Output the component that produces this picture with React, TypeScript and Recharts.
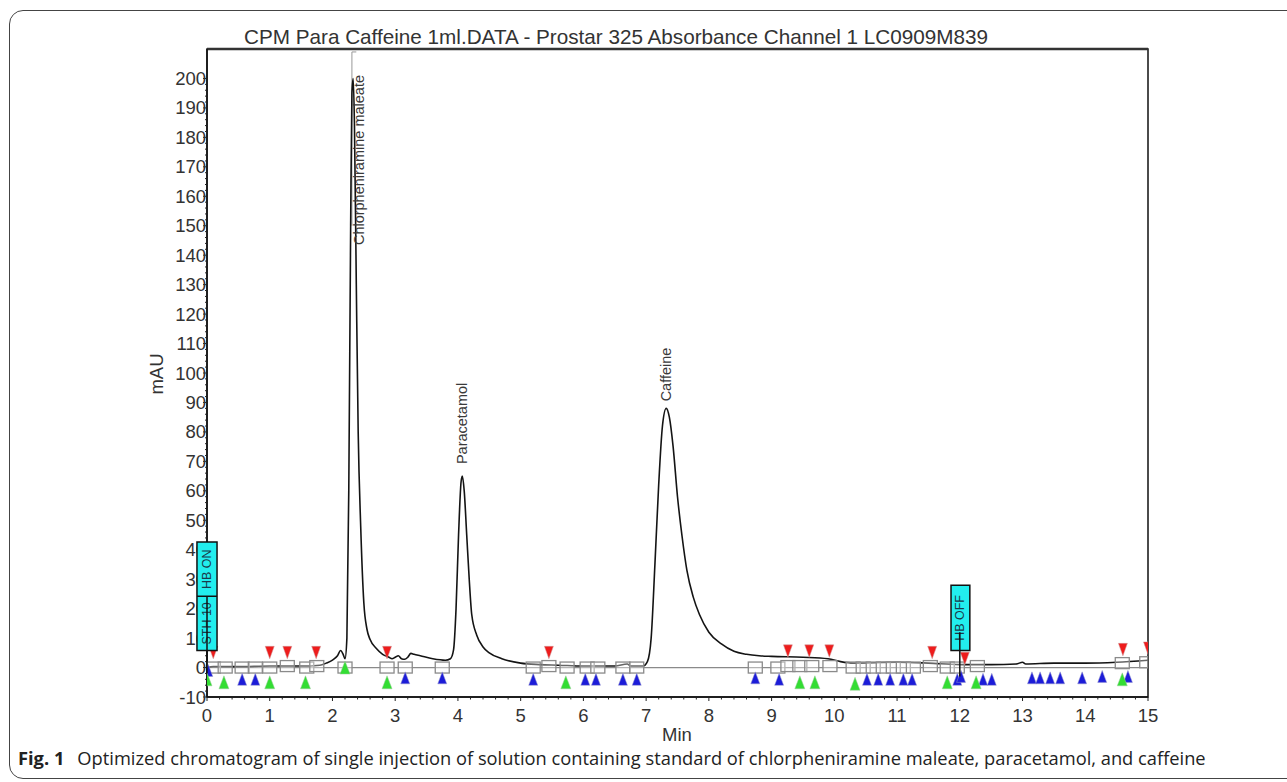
import React from "react";
import { ComposedChart, Line, Scatter, XAxis, YAxis, ReferenceArea, ReferenceLine } from "recharts";

// detector signal (min, mAU)
const times = [
  0.0, 0.1, 0.5, 1.0, 1.5, 1.8, 1.9, 2.0, 2.08, 2.13, 2.17, 2.2, 2.23, 2.26, 2.29, 2.31, 2.33, 2.35, 2.38, 2.41,
  2.45, 2.5, 2.55, 2.6, 2.7, 2.8, 2.9, 2.95, 3.0, 3.05, 3.1, 3.15, 3.2, 3.25, 3.3, 3.4, 3.6, 3.8, 3.88, 3.93,
  3.97, 4.01, 4.05, 4.07, 4.1, 4.14, 4.18, 4.22, 4.3, 4.4, 4.5, 4.7, 5.0, 5.3, 5.6, 6.0, 6.5, 6.7, 6.75, 6.95,
  7.02, 7.08, 7.14, 7.2, 7.26, 7.32, 7.37, 7.43, 7.5, 7.57, 7.65, 7.75, 7.85, 8.0, 8.2, 8.4, 8.6, 8.8, 9.0, 9.5,
  9.9, 10.1, 10.3, 11.0, 11.5, 12.0, 12.5, 12.9, 13.0, 13.05, 13.5, 14.0, 14.5, 15.0,
];
const mau = [
  0, 0.3, 0.3, 0.5, 0.5, 0.8, 1.5, 2.5, 4, 5.8, 4.5, 3, 10, 60, 150, 195, 200, 185, 130, 80,
  48, 22, 13, 9.5, 6.5, 4.5, 3.5, 3, 3.5, 4, 3, 2.8, 3.5, 4.8, 4.5, 4, 3, 2.5, 3, 6,
  20, 45, 63, 65, 60, 45, 30, 18, 11, 7, 5, 3, 1.5, 1, 0.8, 0.5, 0.5, 1.2, 0.5, 0.5,
  2, 10, 35, 62, 82, 88, 85, 75, 58, 45, 33, 24, 18, 12, 8, 5.5, 4.5, 4, 3.8, 3.5,
  3, 2, 1.5, 1.8, 1.5, 1, 1, 1.2, 1.8, 1.2, 1.5, 1.5, 1.8, 2.5,
];
const signal = times.map((t, i) => ({ t, v: mau[i] }));
const baseline = [{ t: 0, v: 0 }, { t: 15, v: 0 }];

// integration event markers
const squares = [
  [0.1, 0], [0.29, 0], [0.56, 0], [0.77, 0], [1.0, 0], [1.28, 0.5], [1.59, 0], [1.75, 0.5], [2.2, 0], [2.87, 0],
  [3.16, 0], [3.75, 0], [5.2, 0], [5.45, 0.5], [5.74, 0], [6.06, 0], [6.23, 0], [6.63, 0], [6.85, 0], [8.74, 0],
  [9.1, 0], [9.26, 0.5], [9.45, 0.5], [9.64, 0.5], [9.93, 0.5], [10.3, 0], [10.46, 0], [10.62, 0], [10.78, 0],
  [10.94, 0], [11.1, 0], [11.26, 0], [11.53, 0.5], [11.8, 0], [11.96, 0], [12.28, 0.5], [14.59, 1.5], [14.98, 1.8],
].map(([t, v]) => ({ t, v }));
const redMarks = [
  [0.1, 5], [1.0, 5], [1.28, 5], [1.74, 5], [2.87, 5], [5.45, 5], [9.26, 5.5], [9.6, 5.5], [9.92, 5.5],
  [11.56, 5], [12.08, 3], [14.6, 6], [15.0, 6.5],
].map(([t, v]) => ({ t, v }));
const blueMarks = [
  [0.02, -1], [0.56, -4], [0.77, -4], [3.16, -3.5], [3.75, -3.5], [5.2, -4], [6.03, -4], [6.2, -4], [6.63, -4],
  [6.85, -4], [8.74, -3.5], [9.12, -4], [10.52, -4], [10.7, -4], [10.89, -4], [11.1, -4], [11.24, -4], [11.96, -4],
  [12.02, -3], [12.37, -4], [12.51, -4], [13.15, -3.5], [13.28, -3.5], [13.44, -3.5], [13.6, -3.5], [13.95, -3.5],
  [14.27, -3], [14.68, -3],
].map(([t, v]) => ({ t, v }));
const greenMarks = [
  [0.0, -4], [0.27, -5], [1.0, -5], [1.57, -5], [2.2, 0], [2.87, -5], [5.72, -5], [9.45, -5], [9.69, -5],
  [10.33, -5.5], [11.8, -5], [12.26, -5], [14.59, -4],
].map(([t, v]) => ({ t, v }));

const peakLabels = [
  { t: 2.33, v: 200, name: "Chlorpheniramine maleate" },
  { t: 4.07, v: 65, name: "Paracetamol" },
  { t: 7.32, v: 88, name: "Caffeine" },
];

const xMajorTicks = [0, 1, 2, 3, 4, 5, 6, 7, 8, 9, 10, 11, 12, 13, 14, 15];
const yMajorTicks = [-10, 0, 10, 20, 30, 40, 50, 60, 70, 80, 90, 100, 110, 120, 130, 140, 150, 160, 170, 180, 190, 200];
const xTicks = Array.from({ length: 76 }, (_, i) => Math.round(i * 2) / 10);
const yTicks = Array.from({ length: 106 }, (_, i) => -10 + i * 2);

const W = 1287;
const H = 782;
const MARGIN = { top: 49, right: 139, left: 147, bottom: 55 };
const FONT = "'Liberation Sans', Arial, sans-serif";
const INK = "#333";

const YTick = ({ x, y, payload }: any) => {
  const major = yMajorTicks.includes(payload.value);
  return (
    <g>
      <line x1={x - (major ? 4 : 2)} x2={x} y1={y} y2={y} stroke="#222" strokeWidth={1} />
      {major && (
        <text x={x - 1} y={y + 6.5} textAnchor="end" fontSize={18.5} fontFamily={FONT} fill={INK}>
          {payload.value}
        </text>
      )}
    </g>
  );
};

const XTick = ({ x, y, payload }: any) => {
  const major = xMajorTicks.some((v) => Math.abs(v - payload.value) < 1e-6);
  return (
    <g>
      <line x1={x} x2={x} y1={y} y2={y + (major ? 4 : 2.5)} stroke="#222" strokeWidth={1} />
      {major && (
        <text x={x} y={y + 25} textAnchor="middle" fontSize={18.5} fontFamily={FONT} fill={INK}>
          {Math.round(payload.value)}
        </text>
      )}
    </g>
  );
};

const SquareMark = ({ cx, cy }: any) => (
  <rect x={cx - 7} y={cy - 5.5} width={14} height={11} fill="rgba(255,255,255,0.35)" stroke="#8a8a8a" strokeWidth={1.3} />
);
const RedMark = ({ cx, cy }: any) => (
  <path d={`M${cx - 4.5},${cy - 6.5} L${cx + 4.5},${cy - 6.5} L${cx},${cy + 6} Z`} fill="#ee1c1c" stroke="#c99" strokeWidth={0.5} />
);
const BlueMark = ({ cx, cy }: any) => (
  <path d={`M${cx - 4.5},${cy + 6} L${cx + 4.5},${cy + 6} L${cx},${cy - 6} Z`} fill="#1c1cd8" stroke="#99c" strokeWidth={0.5} />
);
const GreenMark = ({ cx, cy }: any) => (
  <path d={`M${cx - 5},${cy + 6.5} L${cx + 5},${cy + 6.5} L${cx},${cy - 6.5} Z`} fill="#33dd33" stroke="#9c9" strokeWidth={0.5} />
);

const PeakLabel = ({ cx, cy, payload }: any) => {
  const len = payload.name.length * 7.2;
  const clamp = cy - 8 - len < MARGIN.top + 20;
  const x = clamp ? cx + 6 : cx;
  const y = clamp ? MARGIN.top + 26 : cy - (payload.v < 70 ? 12 : 7);
  return (
    <text
      x={x}
      y={y}
      transform={`rotate(-90 ${x} ${y})`}
      textAnchor={clamp ? "end" : "start"}
      dominantBaseline="central"
      fontSize={14.5}
      fontFamily={FONT}
      fill="#3a3a3a"
    >
      {payload.name}
    </text>
  );
};

const EventBox = ({ viewBox, parts }: any) => {
  const { x, y, width, height } = viewBox;
  const cx = x + width / 2;
  const step = height / parts.length;
  return (
    <g>
      {parts.map((p: string, i: number) => {
        const my = y + step * i + step / 2;
        return (
          <text
            key={p}
            x={cx}
            y={my}
            transform={`rotate(-90 ${cx} ${my})`}
            textAnchor="middle"
            dominantBaseline="central"
            fontSize={12.5}
            fontFamily={FONT}
            fill="#1a3a4a"
          >
            {p}
          </text>
        );
      })}
      {parts.slice(1).map((p: string, i: number) => (
        <line key={p} x1={x} x2={x + width} y1={y + step * (i + 1)} y2={y + step * (i + 1)} stroke="#111" strokeWidth={1.5} />
      ))}
    </g>
  );
};

export default function App() {
  return (
    <div style={{ position: "absolute", left: 0, top: 0, width: W, height: H, overflow: "hidden", background: "#fff" }}>
      <div
        style={{
          position: "absolute",
          left: 9,
          top: 10,
          width: 1330,
          height: 769,
          border: "1.5px solid #444",
          borderRadius: 14,
          boxSizing: "border-box",
        }}
      />
      <div style={{ position: "absolute", left: 0, top: 0 }}>
        <ComposedChart width={W} height={H} margin={MARGIN}>
          <XAxis
            dataKey="t"
            type="number"
            domain={[0, 15]}
            ticks={xTicks}
            interval={0}
            allowDataOverflow
            height={30}
            axisLine={{ stroke: "#111", strokeWidth: 1.5 }}
            tickLine={false}
            tickSize={0}
            tickMargin={0}
            tick={<XTick />}
          />
          <YAxis
            dataKey="v"
            type="number"
            domain={[-10, 210]}
            ticks={yTicks}
            interval={0}
            width={60}
            axisLine={{ stroke: "#111", strokeWidth: 1.5 }}
            tickLine={false}
            tickSize={0}
            tickMargin={0}
            tick={<YTick />}
          />
          <ReferenceArea x1={0} x2={15} y1={-10} y2={210} fill="none" stroke="#111" strokeWidth={1.5} ifOverflow="visible" />
          <ReferenceLine y={210} stroke="#333" strokeWidth={2.5} />
          <ReferenceLine segment={[{ x: 2.31, y: 150 }, { x: 2.31, y: 209 }]} stroke="#999" />
          <ReferenceLine segment={[{ x: 2.31, y: 209 }, { x: 2.38, y: 209 }]} stroke="#999" />
          <Line data={baseline} dataKey="v" stroke="#8a8a8a" strokeWidth={1.3} dot={false} isAnimationActive={false} />
          <Line data={signal} dataKey="v" type="monotone" stroke="#141414" strokeWidth={1.6} dot={false} isAnimationActive={false} />
          <Scatter data={squares} dataKey="v" shape={<SquareMark />} isAnimationActive={false} />
          <Scatter data={blueMarks} dataKey="v" shape={<BlueMark />} isAnimationActive={false} />
          <Scatter data={greenMarks} dataKey="v" shape={<GreenMark />} isAnimationActive={false} />
          <Scatter data={redMarks} dataKey="v" shape={<RedMark />} isAnimationActive={false} />
          <Scatter data={peakLabels} dataKey="v" shape={<PeakLabel />} isAnimationActive={false} />
          <ReferenceArea
            x1={-0.16}
            x2={0.16}
            y1={5.8}
            y2={42.6}
            fill="#22eeee"
            fillOpacity={1}
            stroke="#111"
            strokeWidth={1.5}
            ifOverflow="visible"
            zIndex={3000}
            label={<EventBox parts={["HB ON", "STH 10"]} />}
          />
          <ReferenceLine segment={[{ x: 0, y: -2 }, { x: 0, y: 24 }]} stroke="#111" strokeWidth={1.5} ifOverflow="visible" zIndex={3100} />
          <ReferenceLine segment={[{ x: 12.0, y: -3 }, { x: 12.0, y: 12 }]} stroke="#111" strokeWidth={1.5} ifOverflow="visible" zIndex={3100} />
          <ReferenceArea
            x1={11.86}
            x2={12.16}
            y1={5.8}
            y2={27.9}
            fill="#22eeee"
            fillOpacity={1}
            stroke="#111"
            strokeWidth={1.5}
            ifOverflow="visible"
            zIndex={3000}
            label={<EventBox parts={["HB OFF"]} />}
          />
        </ComposedChart>
      </div>
      <svg width={W} height={H} style={{ position: "absolute", left: 0, top: 0, pointerEvents: "none" }}>
        <text x={616} y={44} textAnchor="middle" fontSize={20.7} fontFamily={FONT} fill={INK}>
          CPM Para Caffeine 1ml.DATA - Prostar 325 Absorbance Channel 1 LC0909M839
        </text>
        <text x={163} y={374} transform="rotate(-90 163 374)" textAnchor="middle" fontSize={18.5} fontFamily={FONT} fill={INK}>
          mAU
        </text>
        <text x={677} y={741} textAnchor="middle" fontSize={18.5} fontFamily={FONT} fill={INK}>
          Min
        </text>
        <text x={18} y={765} fontSize={18.3} fontFamily="'Open Sans', 'Noto Sans', sans-serif" fill="#222">
          <tspan fontWeight="bold">Fig. 1</tspan>
          <tspan dx={13}>Optimized chromatogram of single injection of solution containing standard of chlorpheniramine maleate, paracetamol, and caffeine</tspan>
        </text>
      </svg>
    </div>
  );
}
